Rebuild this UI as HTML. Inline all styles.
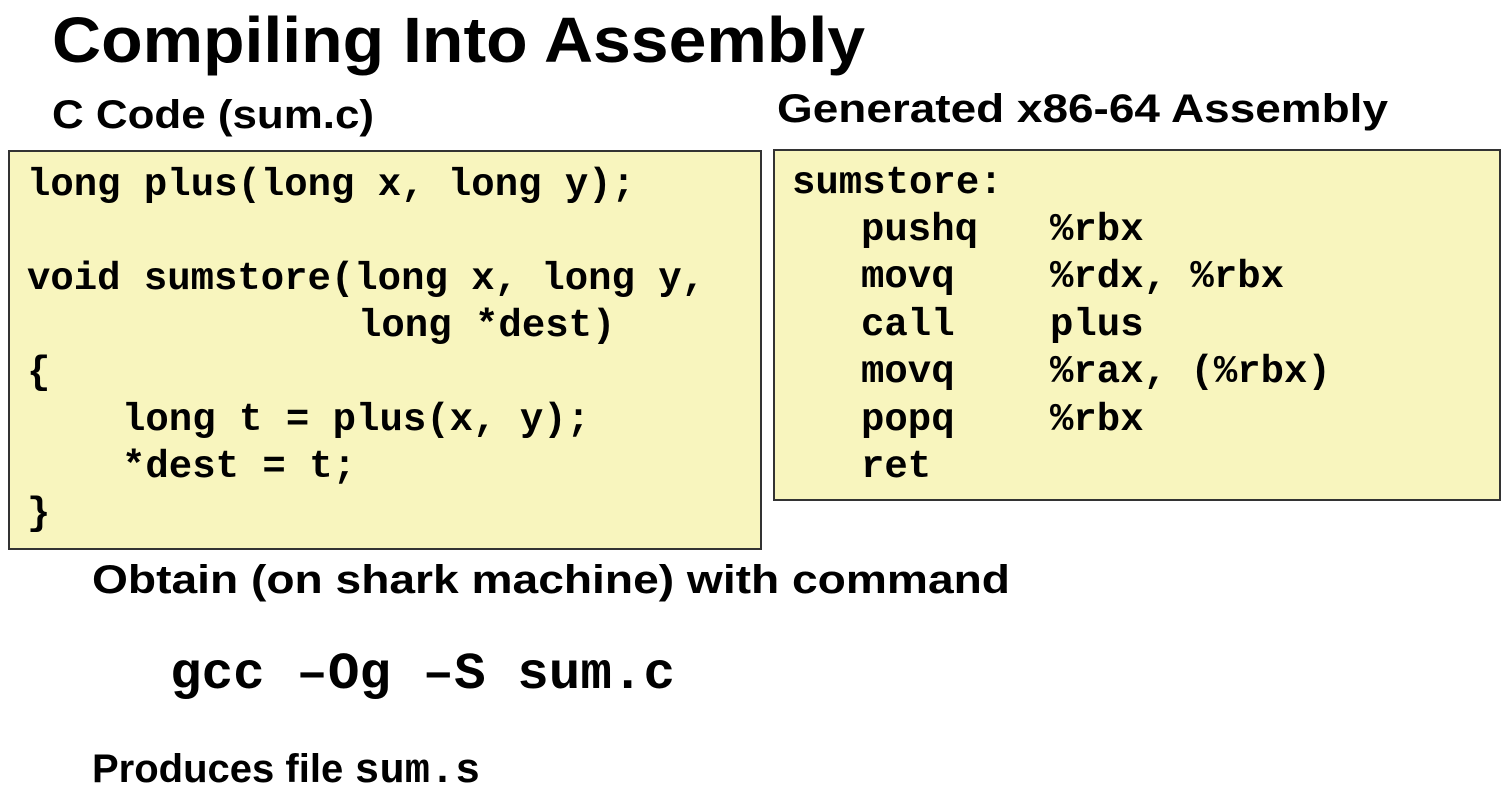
<!DOCTYPE html>
<html><head><meta charset="utf-8"><style>
html,body{margin:0;padding:0;background:#fff;}
svg{display:block;}
.s{font-family:"Liberation Sans",sans-serif;font-weight:bold;fill:#000;}
.m{font-family:"Liberation Mono",monospace;font-weight:bold;fill:#000;font-size:39px;white-space:pre;}
</style></head><body>
<svg width="1505" height="802" viewBox="0 0 1505 802" xmlns="http://www.w3.org/2000/svg">
<text class="s" x="52" y="62" font-size="64" textLength="813" lengthAdjust="spacingAndGlyphs">Compiling Into Assembly</text>
<text class="s" x="52" y="128" font-size="40" textLength="322" lengthAdjust="spacingAndGlyphs">C Code (sum.c)</text>
<text class="s" x="777" y="122" font-size="40" textLength="611" lengthAdjust="spacingAndGlyphs">Generated x86-64 Assembly</text>

<rect x="9" y="151" width="752" height="398" fill="#f8f5be" stroke="#333" stroke-width="2"/>
<rect x="774" y="150" width="726" height="350" fill="#f8f5be" stroke="#333" stroke-width="2"/>

<g class="m" xml:space="preserve">
<text x="27" y="195" textLength="608" lengthAdjust="spacingAndGlyphs">long plus(long x, long y);</text>
<text x="27" y="289" textLength="678" lengthAdjust="spacingAndGlyphs">void sumstore(long x, long y,</text>
<text x="358" y="336">long *dest)</text>
<text x="27" y="383">{</text>
<text x="122" y="430">long t = plus(x, y);</text>
<text x="122" y="477">*dest = t;</text>
<text x="27" y="524">}</text>

<text x="792" y="193">sumstore:</text>
<text x="861" y="240">pushq</text><text x="1050" y="240">%rbx</text>
<text x="861" y="287">movq</text><text x="1050" y="287">%rdx, %rbx</text>
<text x="861" y="335">call</text><text x="1050" y="335">plus</text>
<text x="861" y="382">movq</text><text x="1050" y="382">%rax, (%rbx)</text>
<text x="861" y="430">popq</text><text x="1050" y="430">%rbx</text>
<text x="861" y="477">ret</text>
</g>

<text class="s" x="92" y="593" font-size="40" textLength="918" lengthAdjust="spacingAndGlyphs">Obtain (on shark machine) with command</text>
<text class="m" x="170" y="688" style="font-size:52px" textLength="505" lengthAdjust="spacingAndGlyphs">gcc –Og –S sum.c</text>
<text x="92" y="782"><tspan class="s" font-size="40">Produces file </tspan><tspan class="m" style="font-size:42px">sum.s</tspan></text>
</svg>
</body></html>
